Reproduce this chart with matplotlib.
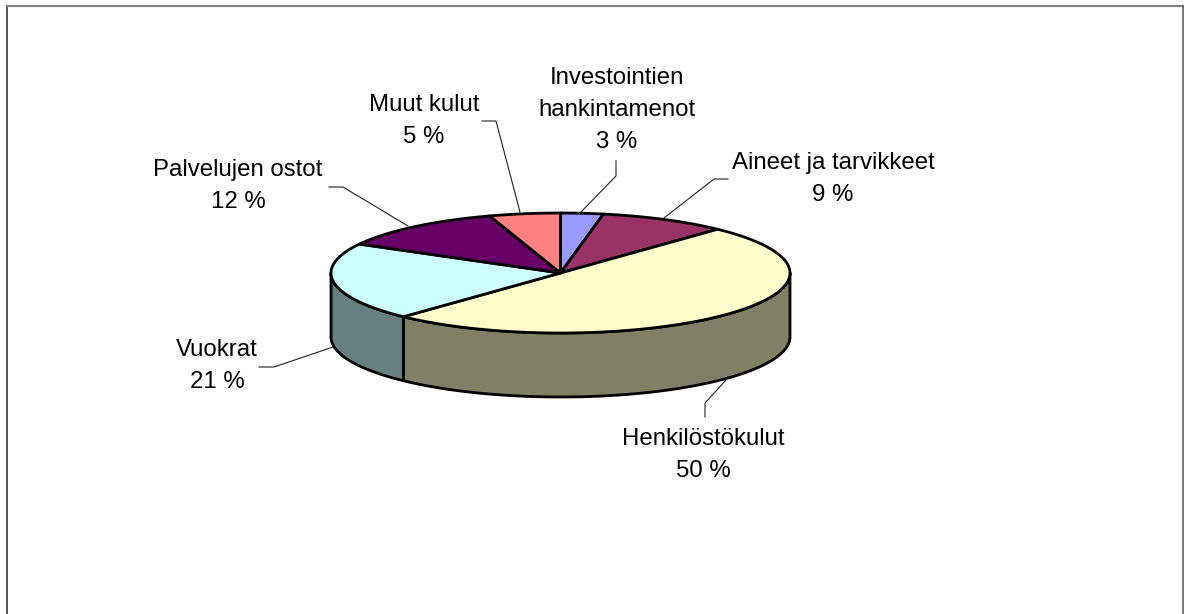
import numpy as np
import matplotlib
matplotlib.use('Agg')
import matplotlib.pyplot as plt

plt.rcParams['font.family'] = ['Liberation Sans', 'DejaVu Sans']

names = ['Investointien\nhankintamenot', 'Aineet ja tarvikkeet', 'Henkilöstökulut',
         'Vuokrat', 'Palvelujen ostot', 'Muut kulut']
values = [3, 9, 50, 21, 12, 5]
top_colors = ['#9999ff', '#993366', '#ffffcc', '#ccffff', '#660066', '#ff8080']
side_colors = ['#4d4d80', '#4d1a33', '#808066', '#668080', '#330033', '#804040']

# label centres and leader lines, in pixels of the 1184x614 picture
label_xy = [(617, 110), (833, 179), (703, 455), (217, 366), (238, 186), (424, 121)]
leaders = [[(616, 161), (616, 176), (580, 213)],
           [(728, 179), (714, 179), (664, 218)],
           [(705, 417), (705, 403), (726, 380)],
           [(259, 367), (274, 367), (333, 347)],
           [(329, 187), (343, 187), (408, 226)],
           [(482, 121), (496, 121), (520, 212)]]

cx, cy, rx, ry, depth = 560.5, 273, 229.5, 60, 64


def rim(frac):
    # position on the top ellipse, clockwise from 12 o'clock
    t = 2 * np.pi * np.asarray(frac)
    return cx + rx * np.sin(t), cy - ry * np.cos(t)


fig = plt.figure(figsize=(11.84, 6.14), dpi=100)
ax = fig.add_axes([0, 0, 1, 1])
ax.set_xlim(0, 1184)
ax.set_ylim(614, 0)
ax.axis('off')

# chart frame, open at the bottom
ax.plot([7, 7], [6, 614], color='#222222', lw=1.1)
ax.plot([7, 1183], [6, 6], color='#808080', lw=1.6)
ax.plot([1183, 1183], [6, 614], color='#555555', lw=1.1)

for path in leaders:
    ax.plot(*zip(*path), color='#222222', lw=0.8, zorder=1)

edges = np.cumsum([0] + values) / sum(values)

# sides: only the front half of the rim shows
for i in range(len(values)):
    a, b = max(edges[i], 0.25), min(edges[i + 1], 0.75)
    if b <= a:
        continue
    f = np.linspace(a, b, 100)
    x, y = rim(f)
    ax.fill(np.r_[x, x[::-1]], np.r_[y, y[::-1] + depth], facecolor=side_colors[i],
            edgecolor='black', lw=2, joinstyle='round', zorder=2)

# top
for i in range(len(values)):
    f = np.linspace(edges[i], edges[i + 1], 100)
    x, y = rim(f)
    ax.fill(np.r_[cx, x], np.r_[cy, y], facecolor=top_colors[i],
            edgecolor='black', lw=2, joinstyle='round', zorder=3)

for name, val, (lx, ly) in zip(names, values, label_xy):
    ax.text(lx, ly, f'{name}\n{val} %', ha='center', va='center', fontsize=17.3,
            linespacing=1.6, color='black', zorder=4)

fig.savefig('out.png', dpi=100)
plt.close()
